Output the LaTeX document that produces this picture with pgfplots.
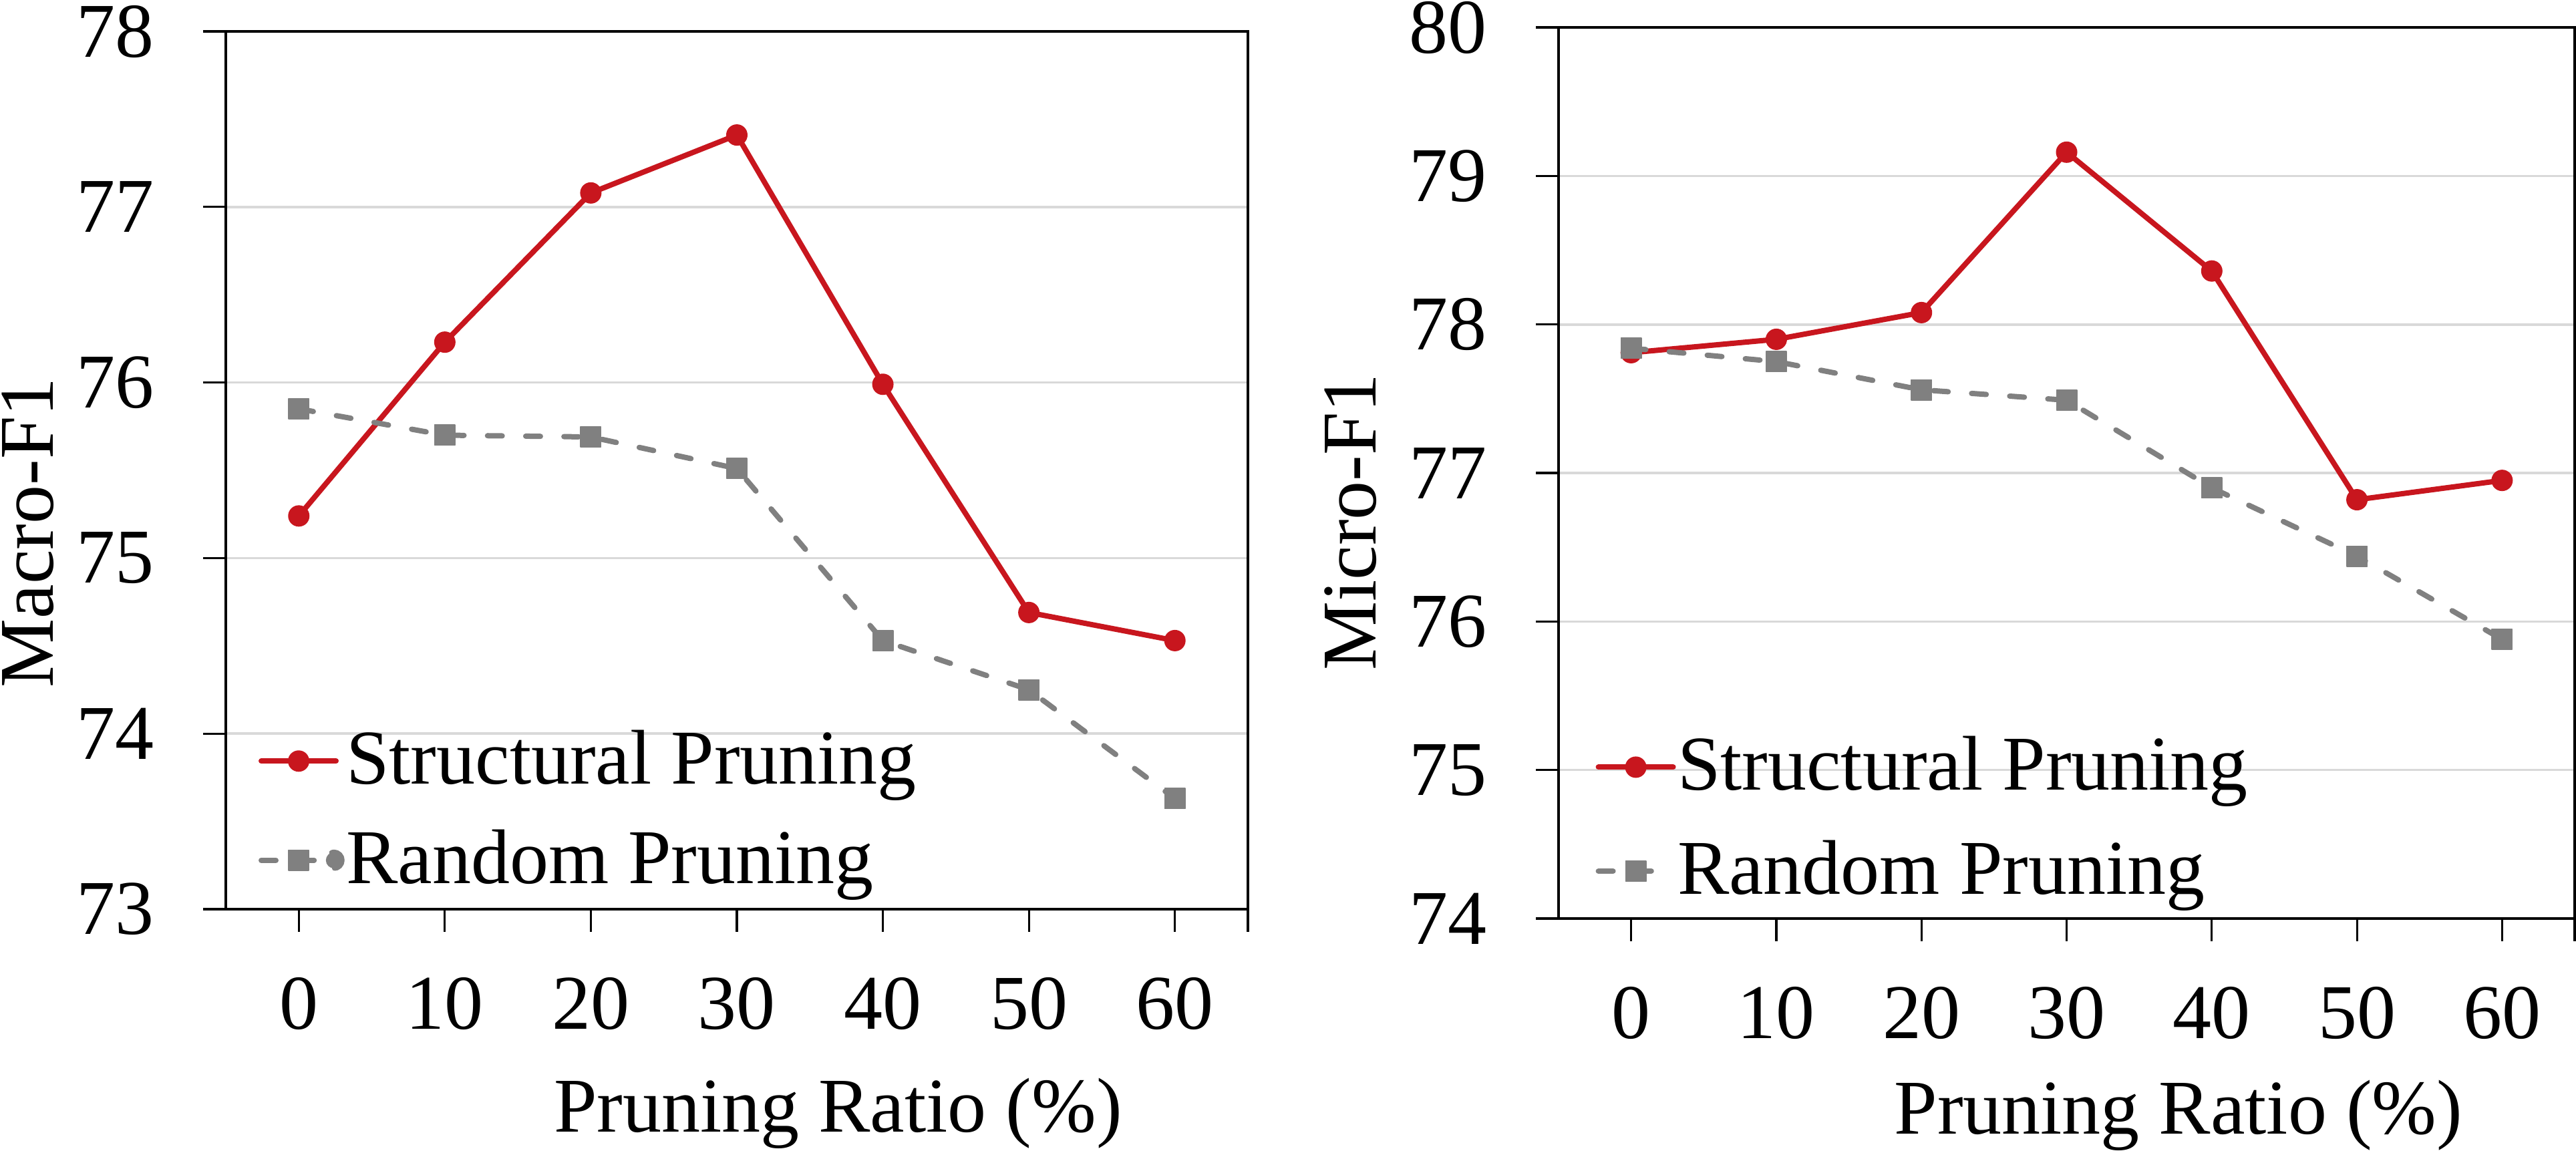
\documentclass[border=0pt]{standalone}
\usepackage{pgfplots}
\pgfplotsset{compat=1.18}
\usepackage{pgfplotstable}
\usepackage{fontspec}
\setmainfont{Liberation Serif}

\definecolor{structred}{HTML}{C8161E}
\definecolor{randgray}{HTML}{808080}
\definecolor{gridgray}{HTML}{D9D9D9}
\newcommand\tfont{\fontsize{14.5}{17.4}\selectfont}

% Macro-F1 by pruning ratio
\pgfplotstableread{
ratio structural random
0  75.24 75.85
10 76.23 75.70
20 77.08 75.69
30 77.41 75.51
40 75.99 74.53
50 74.69 74.25
60 74.53 73.63
}\macrotab

% Micro-F1 by pruning ratio
\pgfplotstableread{
ratio structural random
0  77.81 77.84
10 77.90 77.75
20 78.08 77.56
30 79.16 77.49
40 78.36 76.90
50 76.82 76.44
60 76.95 75.88
}\microtab

\pgfplotsset{
  panel/.style={
    scale only axis,
    xmin=-5, xmax=65,
    xtick={0,10,...,60},
    extra x ticks={65}, extra x tick labels={},
    ytick distance=1,
    ymajorgrids,
    grid style={gridgray, line width=0.45pt},
    tick align=outside,
    xtick pos=left, ytick pos=left,
    major tick length=4.2pt,
    tick style={black, line width=0.4pt},
    axis line style={black, line width=0.4pt},
    /pgf/number format/assume math mode=true,
    tick label style={font=\tfont},
    label style={font=\tfont},
    xticklabel style={anchor=north, inner sep=0pt, yshift=-8.4pt},
    yticklabel style={anchor=east, inner sep=0pt, xshift=-9pt},
    legend cell align=left,
    legend style={draw=none, fill=none, font=\tfont, anchor=south west,
      inner sep=0pt, column sep=0pt, row sep=6.4pt,
      nodes={inner sep=0.3pt}},
  },
  structline/.style={structred, line width=1pt, line join=round, line cap=round,
    mark=*, mark size=1.9pt, mark options={solid, fill=structred, line width=0.2pt},
    legend image code/.code={
      \draw[##1, mark repeat=2, mark phase=2]
        plot coordinates {(0pt,0pt) (7pt,0pt) (14pt,0pt)};}},
  randline/.style={randgray, line width=1pt, line join=round, line cap=round,
    dash pattern=on 2.75pt off 4.4pt,
    mark=square*, mark size=1.9pt, mark options={solid, fill=randgray, line width=0.2pt},
    legend image code/.code={
      \draw[##1, mark repeat=2, mark phase=2]
        plot coordinates {(0pt,0pt) (7pt,0pt) (10.75pt,0pt)};}},
  % legend key with the trailing dot used in the Macro-F1 panel
  randlinedot/.style={randline,
    legend image code/.code={
      \draw[##1, mark repeat=2, mark phase=2]
        plot coordinates {(0pt,0pt) (7pt,0pt) (11.5pt,0pt)};
      \fill[randgray] (13.6pt,0pt) circle (1.5pt);}},
}

\begin{document}
\begin{tikzpicture}
\useasboundingbox (0pt,0pt) rectangle (482pt,-215.375pt);

\begin{axis}[panel,
  at={(42.25pt,-170.125pt)}, anchor=south west,
  width=191.25pt, height=164.25pt,
  ymin=73, ymax=78,
  xlabel={Pruning Ratio (\%)}, ylabel={Macro-F1},
  xlabel style={at={(rel axis cs:0.599,-0.254)}, anchor=base, inner sep=0pt},
  ylabel style={at={(rel axis cs:-0.1935,0.429)}, anchor=center, inner sep=0pt},
  legend style={at={(rel axis cs:0.031,0.0175)}},
]
\addplot[structline] table[x=ratio, y=structural] {\macrotab};
\addlegendentry{Structural Pruning}
\addplot[randlinedot] table[x=ratio, y=random] {\macrotab};
\addlegendentry{Random Pruning}
\end{axis}

\begin{axis}[panel,
  at={(291.625pt,-171.875pt)}, anchor=south west,
  width=190.125pt, height=166.75pt,
  ymin=74, ymax=80,
  xlabel={Pruning Ratio (\%)}, ylabel={Micro-F1},
  xlabel style={at={(rel axis cs:0.610,-0.242)}, anchor=base, inner sep=0pt},
  ylabel style={at={(rel axis cs:-0.2045,0.445)}, anchor=center, inner sep=0pt},
  legend style={at={(rel axis cs:0.0355,0.0155)}, row sep=7.3pt},
]
\addplot[structline] table[x=ratio, y=structural] {\microtab};
\addlegendentry{Structural Pruning}
\addplot[randline] table[x=ratio, y=random] {\microtab};
\addlegendentry{Random Pruning}
\end{axis}
\end{tikzpicture}
\end{document}
